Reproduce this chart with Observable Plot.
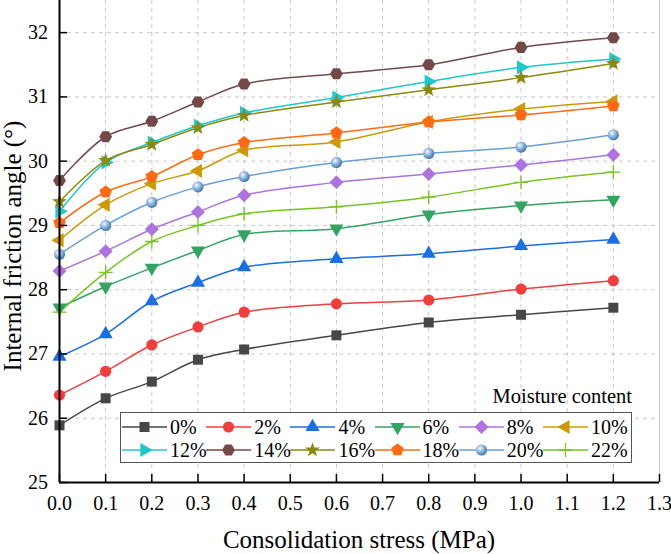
<!DOCTYPE html>
<html><head><meta charset="utf-8">
<script src="https://cdn.jsdelivr.net/npm/d3@7"></script>
<script src="https://cdn.jsdelivr.net/npm/@observablehq/plot@0.6"></script>
<style>
body{margin:0;background:#fff;}
#wrap{position:relative;width:671px;height:554px;font-family:"Liberation Serif","Times New Roman",serif;color:#000;}
#wrap svg{position:absolute;left:0;top:0;}
#wrap svg text{font-family:"Liberation Serif","Times New Roman",serif !important;}
.lbl{position:absolute;white-space:nowrap;font-family:"Liberation Serif","Times New Roman",serif;}
</style></head><body><div id="wrap"></div>
<script>
const stress = [0, 0.1, 0.2, 0.3, 0.4, 0.6, 0.8, 1.0, 1.2];
const moisture = ["0%","2%","4%","6%","8%","10%","12%","14%","16%","18%","20%","22%"];
const phi0  = [25.89, 26.31, 26.57, 26.91, 27.07, 27.29, 27.49, 27.61, 27.72];
const phi2  = [26.36, 26.73, 27.14, 27.42, 27.65, 27.78, 27.84, 28.01, 28.14];
const phi4  = [26.96, 27.31, 27.82, 28.11, 28.35, 28.48, 28.56, 28.68, 28.78];
const phi6  = [27.72, 28.05, 28.34, 28.61, 28.86, 28.95, 29.17, 29.31, 29.40];
const phi8  = [28.29, 28.60, 28.94, 29.21, 29.47, 29.67, 29.80, 29.94, 30.10];
const phi10 = [28.77, 29.32, 29.65, 29.85, 30.17, 30.30, 30.61, 30.81, 30.93];
const phi12 = [29.22, 29.98, 30.29, 30.55, 30.75, 30.99, 31.24, 31.46, 31.59];
const phi14 = [29.70, 30.38, 30.62, 30.92, 31.20, 31.36, 31.50, 31.77, 31.92];
const phi16 = [29.37, 30.01, 30.26, 30.52, 30.71, 30.92, 31.11, 31.30, 31.52];
const phi18 = [29.04, 29.52, 29.76, 30.10, 30.29, 30.44, 30.61, 30.72, 30.86];
const phi20 = [28.55, 29.00, 29.36, 29.60, 29.76, 29.98, 30.12, 30.22, 30.41];
const phi22 = [27.65, 28.27, 28.75, 29.00, 29.18, 29.29, 29.44, 29.67, 29.83];
const colors = ["#474747","#ef3e3e","#1c6fe0","#34a463","#ad74e0","#cc9a06","#22c6cc","#744848","#8a8a10","#ff6a14","#6a9fd4","#78c421"];
const xTicks = [0,0.1,0.2,0.3,0.4,0.5,0.6,0.7,0.8,0.9,1.0,1.1,1.2,1.3];
const yTicks = [25,26,27,28,29,30,31,32];

const allPhi = [phi0,phi2,phi4,phi6,phi8,phi10,phi12,phi14,phi16,phi18,phi20,phi22];
const rows = allPhi.flatMap((vals,i)=>vals.map((v,j)=>({m:moisture[i], x:stress[j], y:v})));

// custom symbols (base radius 5.5)
const B = 5.5;
function mk(fn){ return {draw(ctx,size){ const s=Math.sqrt(size/Math.PI)/B; fn(ctx,s); }}; }
function poly(ctx, pts){ ctx.moveTo(pts[0][0],pts[0][1]); for(let i=1;i<pts.length;i++) ctx.lineTo(pts[i][0],pts[i][1]); ctx.closePath(); }
function reg(R, n, start){ return mk((c,s)=>{ const p=[]; for(let k=0;k<n;k++){ const a=(start+360*k/n)*Math.PI/180; p.push([R*s*Math.cos(a), R*s*Math.sin(a)]);} poly(c,p); }); }
const symSquare = mk((c,s)=>{const h=5*s; poly(c,[[-h,-h],[h,-h],[h,h],[-h,h]]);});
const symCircle = mk((c,s)=>{const r=5.6*s; c.moveTo(r,0); c.arc(0,0,r,0,2*Math.PI);});
const symTriUp = reg(8.2,3,-90);
const symTriDown = reg(8.2,3,90);
const symTriLeft = reg(8.2,3,180);
const symTriRight = reg(8.2,3,0);
const symDiamond = mk((c,s)=>poly(c,[[0,-7*s],[7*s,0],[0,7*s],[-7*s,0]]));
const symHex = reg(6.4,6,0);
const symStar = mk((c,s)=>{const p=[]; for(let k=0;k<10;k++){const a=(-90+36*k)*Math.PI/180; const r=(k%2?3.2:7.8)*s; p.push([r*Math.cos(a),r*Math.sin(a)]);} poly(c,p);});
const symPent = reg(6.6,5,-90);
const symPlus = mk((c,s)=>{const h=7*s; c.moveTo(-h,0); c.lineTo(h,0); c.moveTo(0,-h); c.lineTo(0,h);});
const symbols = [symSquare,symCircle,symTriUp,symTriDown,symDiamond,symTriLeft,symTriRight,symHex,symStar,symPent,symCircle,symPlus];

function fillOf(i){ return i===10 ? "url(#sphere20)" : (i===11 ? "none" : colors[i]); }

const marks = [
  Plot.gridX(xTicks.filter(d=>d>0), {stroke:"#c9c9c9", strokeOpacity:1, strokeDasharray:"4,4"}),
  Plot.gridY(yTicks.filter(d=>d>25), {stroke:"#c9c9c9", strokeOpacity:1, strokeDasharray:"4,4"}),
  Plot.ruleX([1.3], {stroke:"#c8c8c8"}),
];
moisture.forEach((m,i)=>{
  const d = rows.filter(r=>r.m===m);
  marks.push(Plot.line(d, {x:"x", y:"y", stroke:colors[i], strokeWidth:1.5, curve:"catmull-rom"}));
});
moisture.forEach((m,i)=>{
  const d = rows.filter(r=>r.m===m);
  marks.push(Plot.dot(d, {x:"x", y:"y", r:B, symbol:symbols[i], fill:fillOf(i), stroke: i===11 ? colors[i] : "none", strokeWidth:1.3}));
});
marks.push(
  Plot.tickX(xTicks, {x:d=>d, insetTop:474, stroke:"#000", strokeWidth:1.5}),
  Plot.tickY(yTicks, {y:d=>d, insetRight:592, stroke:"#000", strokeWidth:1.5}),
  Plot.ruleX([0], {stroke:"#000", strokeWidth:2}),
  Plot.ruleY([25], {stroke:"#000", strokeWidth:2}),
  Plot.axisX({ticks:xTicks, tickSize:0, tickPadding:13.5, tickFormat:d3.format(".1f"), fontSize:20, label:null, color:"#000"}),
  Plot.axisY({ticks:yTicks, tickSize:0, tickPadding:11.5, tickFormat:d3.format("d"), fontSize:20, label:null, color:"#000"})
);

const svg = Plot.plot({
  width:671, height:554,
  marginLeft:59, marginRight:12, marginTop:0, marginBottom:72,
  x:{domain:[0,1.3]},
  y:{domain:[25,32.5]},
  style:{fontFamily:'"Liberation Serif","Times New Roman",serif', background:"transparent", color:"#000"},
  marks
});
d3.select(svg).insert("defs", ":first-child").html(
  '<radialGradient id="sphere20" cx="38%" cy="35%" r="65%"><stop offset="0%" stop-color="#ffffff"/><stop offset="35%" stop-color="#a9c8ea"/><stop offset="100%" stop-color="#3f76b4"/></radialGradient>'
);
const wrap = document.getElementById("wrap");
wrap.appendChild(svg);

// axis titles
const xt = document.createElement("div"); xt.className="lbl";
xt.textContent = "Consolidation stress (MPa)";
xt.style.cssText += "font-size:25px;line-height:25px;left:359px;top:527px;transform:translateX(-50%);";
wrap.appendChild(xt);
const yt = document.createElement("div"); yt.className="lbl";
yt.textContent = "Internal friction angle (°)";
yt.style.cssText += "font-size:25px;line-height:25px;left:12px;top:246px;transform:translate(-50%,-50%) rotate(-90deg);";
wrap.appendChild(yt);

// legend
const lt = document.createElement("div"); lt.className="lbl";
lt.textContent = "Moisture content";
lt.style.cssText += "font-size:20.5px;line-height:22px;right:39px;top:385px;";
wrap.appendChild(lt);
const leg = document.createElement("div");
leg.style.cssText = "position:absolute;left:120px;top:412px;width:512px;height:51px;border:1px solid #555;background:#fff;box-sizing:border-box;";
wrap.appendChild(leg);
moisture.forEach((m,i)=>{
  const row=Math.floor(i/6), col=i%6;
  const cy = row===0 ? 14 : 37;
  const left = 1 + col*84.2;
  const it = document.createElement("div");
  it.style.cssText = `position:absolute;left:${left}px;top:${cy-11}px;height:22px;white-space:nowrap;`;
  const path = d3.symbol(symbols[i], Math.PI*B*B)();
  const fill = i===10 ? "url(#sphereL)" : (i===11 ? "none" : colors[i]);
  it.innerHTML = `<svg width="46" height="22" style="position:absolute;left:0;top:0;overflow:visible">
    <defs><radialGradient id="sphereL" cx="38%" cy="35%" r="65%"><stop offset="0%" stop-color="#ffffff"/><stop offset="35%" stop-color="#a9c8ea"/><stop offset="100%" stop-color="#3f76b4"/></radialGradient></defs>
    <line x1="0" x2="45" y1="11" y2="11" stroke="${colors[i]}" stroke-width="1.5"/>
    <path d="${path}" transform="translate(22.5,11)" fill="${fill}" stroke="${i===11?colors[i]:'none'}" stroke-width="1.3"/></svg>
    <span style="position:absolute;left:48px;top:0;font-size:20px;line-height:22px;font-family:'Liberation Serif','Times New Roman',serif;">${m}</span>`;
  leg.appendChild(it);
});
</script></body></html>
